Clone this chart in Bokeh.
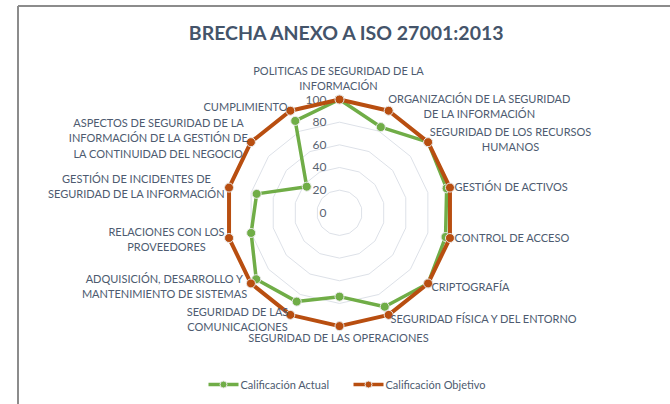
import numpy as np
from bokeh.plotting import figure
from bokeh.models import Range1d
from bokeh.core.properties import value
from bokeh.embed import file_html
from bokeh.resources import INLINE

# ---------------- data ----------------
categories = [
    "POLITICAS DE SEGURIDAD DE LA INFORMACIÓN",
    "ORGANIZACIÓN DE LA SEGURIDAD DE LA INFORMACIÓN",
    "SEGURIDAD DE LOS RECURSOS HUMANOS",
    "GESTIÓN DE ACTIVOS",
    "CONTROL DE ACCESO",
    "CRIPTOGRAFÍA",
    "SEGURIDAD FÍSICA Y DEL ENTORNO",
    "SEGURIDAD DE LAS OPERACIONES",
    "SEGURIDAD DE LAS COMUNICACIONES",
    "ADQUISICIÓN, DESARROLLO Y MANTENIMIENTO DE SISTEMAS",
    "RELACIONES CON LOS PROVEEDORES",
    "GESTIÓN DE INCIDENTES DE SEGURIDAD DE LA INFORMACIÓN",
    "ASPECTOS DE SEGURIDAD DE LA INFORMACIÓN DE LA GESTIÓN DE LA CONTINUIDAD DEL NEGOCIO",
    "CUMPLIMIENTO",
]
label_lines = [
    ["POLITICAS DE SEGURIDAD DE LA", "INFORMACIÓN"],
    ["ORGANIZACIÓN DE LA SEGURIDAD", "DE LA INFORMACIÓN"],
    ["SEGURIDAD DE LOS RECURSOS", "HUMANOS"],
    ["GESTIÓN DE ACTIVOS"],
    ["CONTROL DE ACCESO"],
    ["CRIPTOGRAFÍA"],
    ["SEGURIDAD FÍSICA Y DEL ENTORNO"],
    ["SEGURIDAD DE LAS OPERACIONES"],
    ["SEGURIDAD DE LAS", "COMUNICACIONES"],
    ["ADQUISICIÓN, DESARROLLO Y", "MANTENIMIENTO DE SISTEMAS"],
    ["RELACIONES CON LOS", "PROVEEDORES"],
    ["GESTIÓN DE INCIDENTES DE", "SEGURIDAD DE LA INFORMACIÓN"],
    ["ASPECTOS DE SEGURIDAD DE LA", "INFORMACIÓN DE LA GESTIÓN DE", "LA CONTINUIDAD DEL NEGOCIO"],
    ["CUMPLIMIENTO"],
]
actual = [100, 84, 100, 97, 96, 100, 92, 74, 87, 94, 80, 75, 37, 90]
objetivo = [100, 100, 100, 100, 100, 100, 100, 100, 100, 100, 100, 100, 100, 100]
ticks = [0, 20, 40, 60, 80, 100]
series_names = ["Calificación Actual", "Calificación Objetivo"]
title_text = "BRECHA ANEXO A ISO 27001:2013"

# ---------------- layout ----------------
W, H = 670, 404
OFF = 0                           # page offset of the canvas
CX, CY, S = 339.0, 212.3, 1.133   # page px centre and px per unit


def ux(px):
    return (px - CX) / S


def uy(py):
    return (CY - py) / S


p = figure(width=W, height=H, output_backend="svg", toolbar_location=None,
           x_range=Range1d(ux(OFF), ux(OFF + W)), y_range=Range1d(uy(OFF + H), uy(OFF)),
           min_border=0)
p.axis.visible = False
p.grid.visible = False
p.outline_line_color = None
p.background_fill_color = "white"
p.border_fill_color = "white"

FONT = "Lato"
TXT = "#4d5b70"
GREEN = "#70ad47"
ORANGE = "#b84e10"

# chart border (top and left)
p.line([ux(17.5), ux(671)], [uy(5.5), uy(5.5)], line_color="#8c8c8c", line_width=2)
p.line([ux(17.5), ux(17.5)], [uy(5.5), uy(405)], line_color="#8c8c8c", line_width=2)

n = len(categories)
ang = np.arange(n) * 2 * np.pi / n


def polar(vals):
    v = np.asarray(vals, dtype=float)
    return list(v * np.sin(ang)), list(v * np.cos(ang))


# grid rings
for t in ticks[1:]:
    xs, ys = polar([t] * n)
    p.line(xs + xs[:1], ys + ys[:1], line_color="#dde1e8", line_width=1)

# tick labels
p.text(x=[ux(326)] * len(ticks), y=[t for t in ticks], text=[str(t) for t in ticks],
       text_align="right", text_baseline="middle", text_font=value(FONT),
       text_font_size="12px", text_color="#59636f")

# series
for vals, col, lw in [(actual, GREEN, 3.5), (objetivo, ORANGE, 4)]:
    xs, ys = polar(vals)
    p.line(xs + xs[:1], ys + ys[:1], line_color=col, line_width=lw, line_join="round")
    p.scatter(xs, ys, size=9, fill_color=col, line_color="#e8e8e8", line_width=1)

# category labels: (page x, page y of first line, align)
label_pos = [
    (338, 70, "center"),
    (479, 98, "center"),
    (510, 131, "center"),
    (454, 186, "left"),
    (454, 237, "left"),
    (431, 286, "left"),
    (390, 318, "left"),
    (338, 337, "center"),
    (237, 311, "center"),
    (164, 278, "center"),
    (166, 231, "center"),
    (136, 178, "center"),
    (158, 122, "center"),
    (245, 106, "center"),
]
LH = 15.3
for lines, (px, py, al) in zip(label_lines, label_pos):
    for k, ln in enumerate(lines):
        p.text(x=[ux(px)], y=[uy(py + k * LH)], text=[ln], text_align=al,
               text_baseline="middle", text_font=value(FONT), text_font_size="11px",
               text_color=TXT)

# title
p.text(x=[ux(347)], y=[uy(32)], text=[title_text], text_align="center",
       text_baseline="middle", text_font=value(FONT), text_font_size="19.5px",
       text_font_style="bold", text_color="#44546a")

# legend
for name, col, x0 in [(series_names[0], GREEN, 208), (series_names[1], ORANGE, 353)]:
    p.line([ux(x0), ux(x0 + 30)], [uy(384), uy(384)], line_color=col, line_width=3.5)
    p.scatter([ux(x0 + 15)], [uy(384)], size=7, fill_color=col, line_color="#e8e8e8", line_width=1)
    p.text(x=[ux(x0 + 32)], y=[uy(384)], text=[name], text_align="left",
           text_baseline="middle", text_font=value(FONT), text_font_size="11px",
           text_color=TXT)

open("out.html", "w").write(file_html(p, INLINE))
